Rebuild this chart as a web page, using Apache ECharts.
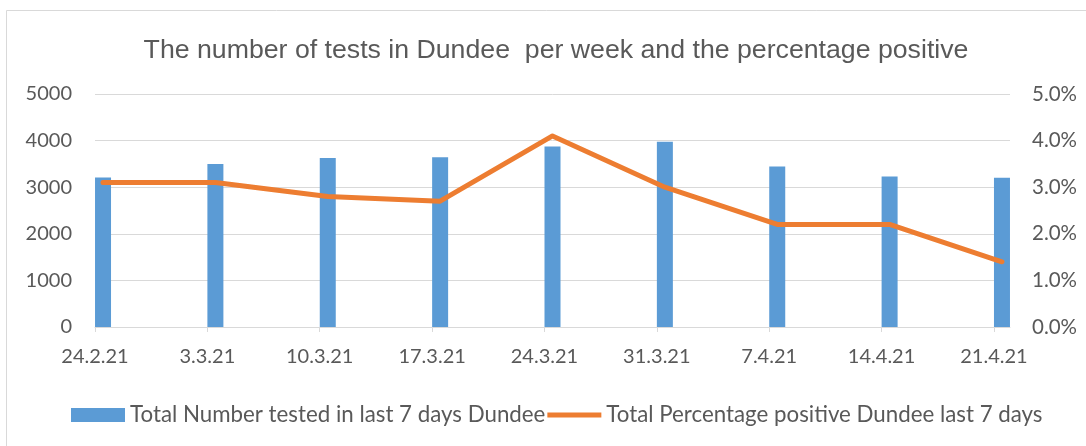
<!DOCTYPE html>
<html>
<head>
<meta charset="utf-8">
<script src="https://cdn.jsdelivr.net/npm/echarts@6/dist/echarts.min.js"></script>
<style>html,body{margin:0;padding:0;background:#fff;}#c{width:1086px;height:446px;}</style>
</head>
<body>
<div id="c"></div>
<script>
const categories = ['24.2.21','3.3.21','10.3.21','17.3.21','24.3.21','31.3.21','7.4.21','14.4.21','21.4.21'];
const testsTotal = [3210, 3500, 3625, 3645, 3875, 3975, 3445, 3230, 3205];
const percentPositive = [3.1, 3.1, 2.8, 2.7, 4.1, 3.0, 2.2, 2.2, 1.4];
const leftTicks = [0, 1000, 2000, 3000, 4000, 5000];
const rightTicks = [0, 1, 2, 3, 4, 5];
const seriesNames = ['Total Number tested in last 7 days Dundee', 'Total Percentage positive Dundee last 7 days'];
const titleText = 'The number of tests in Dundee  per week and the percentage positive';

// Date axis in days: each category is one week apart; a bar fills its day.
const DAYS_PER_WEEK = 7;
const tickDays = categories.map((c, i) => i * DAYS_PER_WEEK);
const axisMaxDay = tickDays[tickDays.length - 1] + 1;
const barData = testsTotal.map((v, i) => [tickDays[i] + 0.5, v]);
const lineData = percentPositive.map((v, i) => [tickDays[i] + 0.5, v]);

const txt = '#595959';
const grid = '#D9D9D9';
const chart = echarts.init(document.getElementById('c'), null, {renderer: 'canvas'});
chart.setOption({
  backgroundColor: '#fff',
  animation: false,
  graphic: [{
    type: 'rect', silent: true,
    shape: {x: 6.5, y: 10.5, width: 1100, height: 460},
    style: {fill: 'none', stroke: grid, lineWidth: 1}
  }],
  title: {
    text: titleText, left: 551, top: 32, textAlign: 'center',
    textStyle: {fontFamily: 'Liberation Sans', fontSize: 26.7, fontWeight: 'normal', color: txt}
  },
  legend: {
    left: 66, top: 399, itemGap: 2, itemWidth: 54, itemHeight: 14,
    textStyle: {fontFamily: 'Lato', fontSize: 22.3, color: txt},
    data: [
      {name: seriesNames[0], icon: 'rect'},
      {name: seriesNames[1], icon: 'path://M0,0 M0,4.5 L54,4.5 L54,9.5 L0,9.5 Z M54,14'}
    ]
  },
  grid: {left: 95, right: 76, top: 94, bottom: 119, containLabel: false},
  xAxis: {
    type: 'value', min: 0, max: axisMaxDay,
    splitLine: {show: false},
    axisLine: {show: true, lineStyle: {color: grid, width: 1}},
    axisTick: {show: true, length: 5, customValues: tickDays, lineStyle: {color: grid}},
    axisLabel: {
      customValues: tickDays, margin: 20,
      fontFamily: 'Lato', fontSize: 20, color: txt,
      formatter: v => categories[Math.round(v / DAYS_PER_WEEK)] || ''
    }
  },
  yAxis: [{
    type: 'value', min: leftTicks[0], max: leftTicks[leftTicks.length - 1], interval: leftTicks[1] - leftTicks[0],
    axisLine: {show: false}, axisTick: {show: false},
    splitLine: {lineStyle: {color: grid, width: 1}},
    axisLabel: {margin: 23, fontFamily: 'Lato', fontSize: 20, color: txt, formatter: v => String(v)}
  }, {
    type: 'value', min: rightTicks[0], max: rightTicks[rightTicks.length - 1], interval: rightTicks[1] - rightTicks[0],
    axisLine: {show: false}, axisTick: {show: false}, splitLine: {show: false},
    axisLabel: {margin: 22, fontFamily: 'Lato', fontSize: 20.5, color: txt, formatter: v => v.toFixed(1) + '%'}
  }],
  series: [{
    name: seriesNames[0], type: 'bar', yAxisIndex: 0, barWidth: 16,
    itemStyle: {color: '#5B9BD5'},
    data: barData
  }, {
    name: seriesNames[1], type: 'line', yAxisIndex: 1, symbol: 'none', showSymbol: false,
    lineStyle: {color: '#ED7D31', width: 5, cap: 'round', join: 'round'},
    itemStyle: {color: '#ED7D31'},
    data: lineData
  }]
});
</script>
</body>
</html>
